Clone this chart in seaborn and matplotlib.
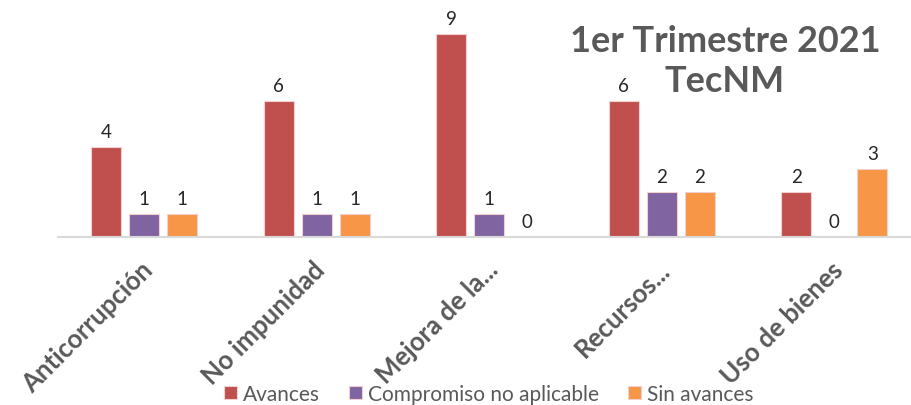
import matplotlib
matplotlib.use("Agg")
import matplotlib.pyplot as plt
import seaborn as sns
import pandas as pd
from matplotlib.transforms import ScaledTranslation

categories = ["Anticorrupción", "No impunidad", "Mejora de la...", "Recursos...", "Uso de bienes"]
series = ["Avances", "Compromiso no aplicable", "Sin avances"]
avances = [4, 6, 9, 6, 2]
compromiso = [1, 1, 1, 2, 0]
sin_avances = [1, 1, 0, 2, 3]
colors = ["#C0504D", "#8064A2", "#F79646"]

rows = []
for vals, s in zip([avances, compromiso, sin_avances], series):
    for c, v in zip(categories, vals):
        rows.append({"cat": c, "serie": s, "valor": v})
df = pd.DataFrame(rows)

sns.set_theme(style="white")
plt.rcParams["font.family"] = ["Lato", "DejaVu Sans"]

W, H = 911, 406
fig = plt.figure(figsize=(W / 100, H / 100), dpi=100)
ax = fig.add_axes([58 / W, (H - 238) / H, 862.5 / W, 226 / H])

sns.barplot(data=df, x="cat", y="valor", hue="serie", order=categories,
            hue_order=series, palette=colors, saturation=1, width=0.66, gap=0.21,
            edgecolor="#f2d0cf", linewidth=0.8, ax=ax, legend=True)

for cont in ax.containers:
    ax.bar_label(cont, labels=[f"{int(v)}" for v in cont.datavalues],
                 padding=5, fontsize=13.5, color="#262626")

ax.set_xlim(-0.5, 4.5)
ax.set_ylim(0, 10)
ax.set_xlabel("")
ax.set_ylabel("")
ax.set_yticks([])
for sp in ["top", "right", "left"]:
    ax.spines[sp].set_visible(False)
ax.spines["bottom"].set_color("#D9D9D9")
ax.spines["bottom"].set_linewidth(1.5)
ax.tick_params(axis="x", length=0, pad=4)
ax.set_xticks(range(len(categories)))
ax.set_xticklabels(categories, rotation=45, ha="right", rotation_mode="anchor",
                   fontsize=18.5, fontweight="bold", color="#595959")
for lbl in ax.get_xticklabels():
    lbl.set_transform(lbl.get_transform() + ScaledTranslation(-4 / 100, -14 / 100, fig.dpi_scale_trans))

leg = ax.legend(loc="center", bbox_to_anchor=(489 / W, (H - 395) / H),
                bbox_transform=fig.transFigure, ncol=3, frameon=False,
                fontsize=15, handlelength=0.6, handleheight=0.6,
                handletextpad=0.3, columnspacing=1.4, labelcolor="#595959")

fig.text(725 / W, (H - 42) / H, "1er Trimestre 2021", ha="center", va="center",
         fontsize=26, fontweight="bold", color="#595959")
fig.text(725 / W, (H - 81) / H, "TecNM", ha="center", va="center",
         fontsize=26, fontweight="bold", color="#595959")

fig.savefig("out.png", dpi=100)
